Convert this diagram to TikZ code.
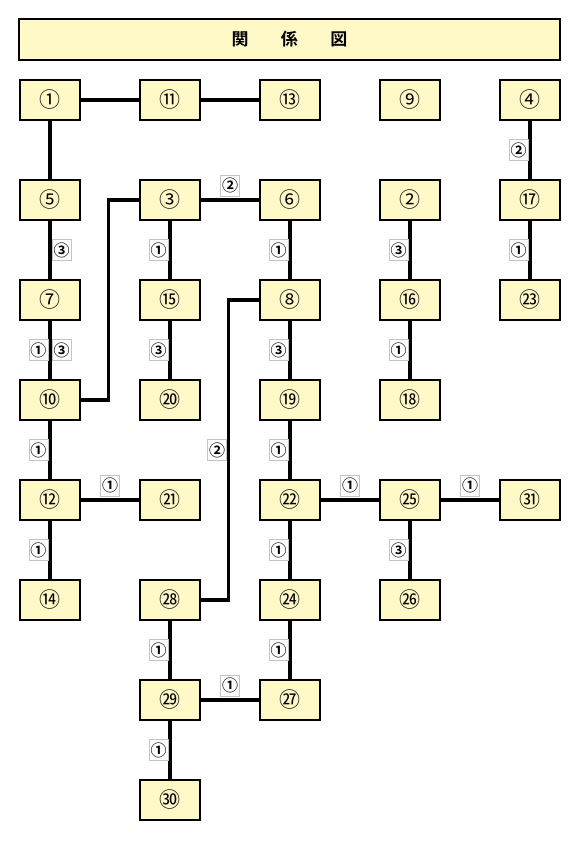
\documentclass[tikz,border=0pt]{standalone}
\usepackage{fontspec}
\newfontfamily\cjk{Noto Sans CJK JP}
\newfontfamily\cjkb{Noto Sans CJK JP Bold}
\definecolor{boxfill}{HTML}{FFF9C8}
\definecolor{labgray}{HTML}{C4C4C4}
\begin{document}
\begin{tikzpicture}[x=1pt,y=-1pt,
  box/.style={draw=black,line width=2.6pt,fill=boxfill,minimum width=60,minimum height=40,inner sep=0,font=\cjk\fontsize{21}{21}\selectfont},
  titlebox/.style={draw=black,line width=2.6pt,fill=boxfill,minimum width=541,minimum height=41,inner sep=0,font=\cjkb\fontsize{17}{17}\selectfont},
  lab/.style={draw=labgray,line width=1pt,fill=white,minimum width=19,minimum height=21,inner sep=0,font=\cjkb\fontsize{16}{16}\selectfont},
  vl/.style={lab,anchor=east,xshift=-1.5pt},
  vr/.style={lab,anchor=west,xshift=1.5pt},
  ha/.style={lab,anchor=south,yshift=3.5pt},
  link/.style={line width=3.2pt}]
\useasboundingbox (0,0) rectangle (581,841);
\node[titlebox] (title) at (289.5,39.5) {関\hspace{1.9em}係\hspace{1.9em}図};
% row 1
\node[box] (n1) at (50,100) {①};
\node[box] (n11) at (170,100) {⑪};
\node[box] (n13) at (290,100) {⑬};
\node[box] (n9) at (410,100) {⑨};
\node[box] (n4) at (530,100) {④};
% row 2
\node[box] (n5) at (50,200) {⑤};
\node[box] (n3) at (170,200) {③};
\node[box] (n6) at (290,200) {⑥};
\node[box] (n2) at (410,200) {②};
\node[box] (n17) at (530,200) {⑰};
% row 3
\node[box] (n7) at (50,300) {⑦};
\node[box] (n15) at (170,300) {⑮};
\node[box] (n8) at (290,300) {⑧};
\node[box] (n16) at (410,300) {⑯};
\node[box] (n23) at (530,300) {㉓};
% row 4
\node[box] (n10) at (50,400) {⑩};
\node[box] (n20) at (170,400) {⑳};
\node[box] (n19) at (290,400) {⑲};
\node[box] (n18) at (410,400) {⑱};
% row 5
\node[box] (n12) at (50,500) {⑫};
\node[box] (n21) at (170,500) {㉑};
\node[box] (n22) at (290,500) {㉒};
\node[box] (n25) at (410,500) {㉕};
\node[box] (n31) at (530,500) {㉛};
% row 6
\node[box] (n14) at (50,600) {⑭};
\node[box] (n28) at (170,600) {㉘};
\node[box] (n24) at (290,600) {㉔};
\node[box] (n26) at (410,600) {㉖};
% row 7
\node[box] (n29) at (170,700) {㉙};
\node[box] (n27) at (290,700) {㉗};
% row 8
\node[box] (n30) at (170,800) {㉚};
% connectors
\draw[link] (n1) -- (n11);
\draw[link] (n11) -- (n13);
\draw[link] (n1) -- (n5);
\draw[link] (n4) -- node[vl]{②} (n17);
\draw[link] (n5) -- node[vr]{③} (n7);
\draw[link] (n3) -- node[ha]{②} (n6);
\draw[link] (n3.west) -- ++(-30,0) |- (n10.east);
\draw[link] (n3) -- node[vl]{①} (n15);
\draw[link] (n6) -- node[vl]{①} (n8);
\draw[link] (n2) -- node[vl]{③} (n16);
\draw[link] (n17) -- node[vl]{①} (n23);
\draw[link] (n7) -- node[vl]{①} node[vr]{③} (n10);
\draw[link] (n15) -- node[vl]{③} (n20);
\draw[link] (n8) -- node[vl]{③} (n19);
\draw[link] (n8.west) -- ++(-30,0) -- node[vl]{②} ++(0,300) -- (n28.east);
\draw[link] (n16) -- node[vl]{①} (n18);
\draw[link] (n10) -- node[vl]{①} (n12);
\draw[link] (n12) -- node[ha]{①} (n21);
\draw[link] (n12) -- node[vl]{①} (n14);
\draw[link] (n19) -- node[vl]{①} (n22);
\draw[link] (n22) -- node[ha]{①} (n25);
\draw[link] (n25) -- node[ha]{①} (n31);
\draw[link] (n22) -- node[vl]{①} (n24);
\draw[link] (n25) -- node[vl]{③} (n26);
\draw[link] (n28) -- node[vl]{①} (n29);
\draw[link] (n24) -- node[vl]{①} (n27);
\draw[link] (n29) -- node[ha]{①} (n27);
\draw[link] (n29) -- node[vl]{①} (n30);
\end{tikzpicture}
\end{document}
